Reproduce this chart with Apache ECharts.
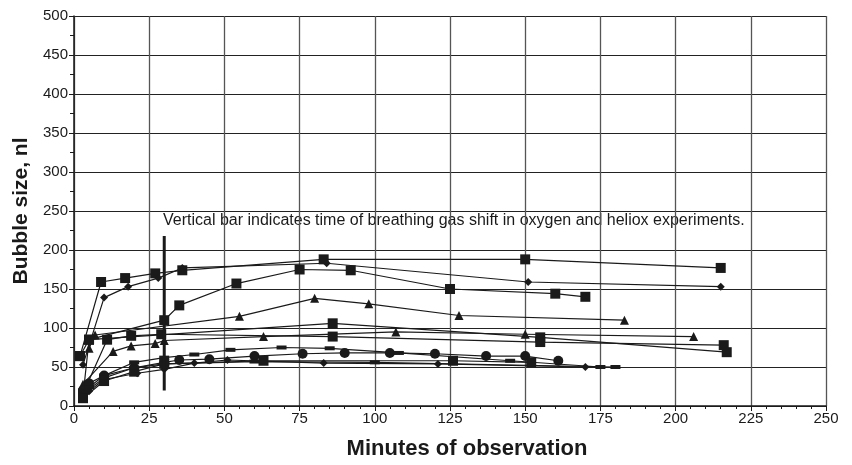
<!DOCTYPE html>
<html>
<head>
<meta charset="utf-8">
<script src="https://cdn.jsdelivr.net/npm/echarts@6/dist/echarts.min.js"></script>
<style>
  html, body { margin: 0; padding: 0; background: #fff; }
  #chart { width: 852px; height: 465px; }
</style>
</head>
<body>
<div id="chart"></div>
<script>
// x ticks / y ticks
const xTicks = [0, 25, 50, 75, 100, 125, 150, 175, 200, 225, 250];
const yTicks = [0, 50, 100, 150, 200, 250, 300, 350, 400, 450, 500];

// upper curves
const sqTop = [[2, 64], [9, 159], [17, 164], [27, 170], [36, 174], [83, 188], [150, 188], [215, 177]];
const diaTop = [[3, 53], [10, 139], [18, 153], [28, 164], [36, 177], [84, 183], [151, 159], [215, 153]];
const sqRise = [[3, 13], [5, 85], [30, 110], [35, 129], [54, 157], [75, 175], [92, 174], [125, 150], [160, 144], [170, 140]];
const triRise = [[5, 74], [7, 91], [55, 115], [80, 138], [98, 131], [128, 116], [183, 110]];

// middle band
const sqMidA = [[2, 64], [5, 85], [86, 106], [155, 88], [217, 69]];
const sqMidB = [[3, 16], [11, 85], [19, 90], [29, 92], [86, 89], [155, 82], [216, 78]];
const triMid = [[3, 28], [13, 70], [19, 77], [27, 80], [30, 84], [63, 89], [107, 95], [150, 92], [206, 89]];

// lower band
const cirLow = [[3, 20], [5, 29], [10, 39], [20, 49], [30, 56], [35, 59], [45, 60], [60, 64], [76, 67], [90, 68], [105, 68], [120, 67], [137, 64], [150, 64], [161, 58]];
const dashLowA = [[3, 15], [5, 24], [10, 39], [20, 56], [30, 62], [40, 66], [52, 72], [69, 75], [85, 74], [108, 68], [145, 58], [175, 50]];
const diaLow = [[3, 13], [5, 19], [10, 34], [21, 42], [30, 47], [40, 55], [51, 59], [83, 55], [121, 54], [170, 50]];
const sqLow = [[3, 10], [10, 32], [20, 44], [30, 54], [63, 58], [126, 58], [152, 56]];
const dashLowB = [[4, 19], [10, 36], [20, 49], [30, 54], [60, 57], [100, 56], [180, 50]];

// vertical bar: gas shift time
const shiftBar = [[30, 20], [30, 218]];

const note = "Vertical bar indicates time of breathing gas shift in oxygen and heliox experiments.";

const chart = echarts.init(document.getElementById("chart"));

const ink = "#1a1a1a";
const mk = (data, symbol, size) => ({
  type: "line",
  data: data,
  symbol: symbol,
  symbolSize: size,
  showSymbol: true,
  lineStyle: { color: ink, width: 1.2 },
  itemStyle: { color: ink },
  animation: false,
  z: 3,
});

const option = {
  backgroundColor: "#fff",
  animation: false,
  grid: { left: 74, top: 16, right: 26, bottom: 48 },
  xAxis: {
    type: "value",
    min: xTicks[0],
    max: xTicks[xTicks.length - 1],
    interval: 25,
    name: "Minutes of observation",
    nameLocation: "middle",
    nameGap: 32,
    nameTextStyle: {
      fontFamily: "Liberation Sans",
      fontWeight: "bold",
      fontSize: 22,
      color: ink,
      padding: [0, 0, 0, 34],
    },
    axisLine: { show: true, lineStyle: { color: ink, width: 1.5 } },
    axisTick: { show: true, length: 5, lineStyle: { color: ink } },
    minorTick: { show: true, splitNumber: 5, length: 3, lineStyle: { color: ink } },
    axisLabel: { fontFamily: "Liberation Sans", fontSize: 15, color: ink, margin: 5 },
    splitLine: { show: true, lineStyle: { color: "#555", width: 1.3 } },
  },
  yAxis: {
    type: "value",
    min: yTicks[0],
    max: yTicks[yTicks.length - 1],
    interval: 50,
    name: "Bubble size, nl",
    nameLocation: "middle",
    nameGap: 38,
    nameTextStyle: { fontFamily: "Liberation Sans", fontWeight: "bold", fontSize: 21, color: ink },
    axisLine: { show: true, lineStyle: { color: ink, width: 1.5 } },
    axisTick: { show: true, length: 5, lineStyle: { color: ink } },
    minorTick: { show: true, splitNumber: 2, length: 4, lineStyle: { color: ink } },
    axisLabel: { fontFamily: "Liberation Sans", fontSize: 15, color: ink, margin: 6 },
    splitLine: { show: true, lineStyle: { color: "#222", width: 1.2 } },
  },
  graphic: [
    {
      type: "text",
      left: 163,
      top: 213,
      style: { text: note, fontFamily: "Liberation Sans", fontSize: 16, fill: ink },
    },
  ],
  series: [
    mk(sqTop, "rect", 10),
    mk(diaTop, "diamond", 8),
    mk(sqRise, "rect", 10),
    mk(triRise, "triangle", 9),
    mk(sqMidA, "rect", 10),
    mk(sqMidB, "rect", 10),
    mk(triMid, "triangle", 9),
    mk(cirLow, "circle", 10),
    mk(dashLowA, "rect", [10, 4]),
    mk(diaLow, "diamond", 8),
    mk(sqLow, "rect", 10),
    mk(dashLowB, "rect", [10, 4]),
    {
      type: "line",
      data: shiftBar,
      symbol: "none",
      lineStyle: { color: ink, width: 3 },
      animation: false,
      z: 4,
    },
  ],
};

chart.setOption(option);
</script>
</body>
</html>
